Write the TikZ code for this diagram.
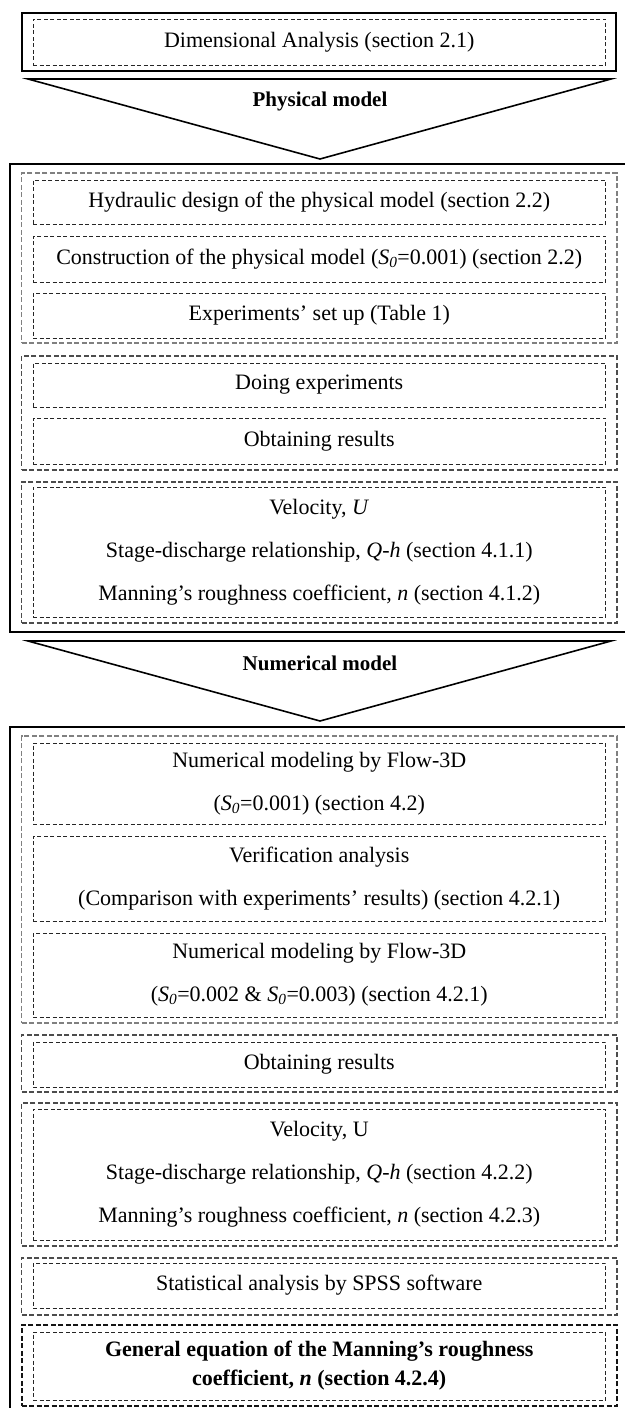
\documentclass[tikz,border=0pt]{standalone}
\usepackage{fontspec}
\setmainfont{Liberation Serif}
\newcommand{\Szero}{\textit{S}\textsubscript{\textit{0}}}
\begin{document}
\begin{tikzpicture}[x=1pt,y=-1pt,
  every node/.style={font=\fontsize{22}{43}\selectfont, align=center, inner sep=0pt},
  outerbox/.style={draw=black, line width=2pt},
  grp/.style={minimum width=595.3pt, line width=1.5pt, dash pattern=on 5pt off 2.5pt},
  grplight/.style={grp, draw=black!50},
  grpdark/.style={grp, draw=black!70},
  grpblack/.style={grp, draw=black!92, line width=1.8pt},
  item/.style={draw=black!85, line width=0.8pt, dash pattern=on 4pt off 2.5pt, minimum width=572.5pt},
  chevron/.style={draw=black, line width=1.6pt, line join=miter},
  label/.style={font=\fontsize{21}{43}\selectfont\bfseries}
]
\useasboundingbox (0,0) rectangle (624,1408);

% ---- top box
\node[outerbox, minimum width=594.3pt, minimum height=57.4pt] (top) at (318.85,42) {};
\node[item, minimum height=46pt] (dim) at (319.25,42) {Dimensional Analysis (section 2.1)};

% ---- chevron 1
\coordinate (t1l) at (28,79);
\coordinate (t1r) at (611,79);
\coordinate (t1a) at (320,159);
\draw[chevron] (t1l) -- (t1r) -- (t1a) -- cycle;
\node[label] (pm) at (320,101) {Physical model};

% ---- physical model box
\node[outerbox, minimum width=620pt, minimum height=468pt] (phys) at (320,398) {};
\node[grplight, minimum height=170pt] (ga) at (319.35,258) {};
\node[item, minimum height=44pt] (hyd) at (319.25,202) {Hydraulic design of the physical model (section 2.2)};
\node[item, minimum height=46pt] (cons) at (319.25,259) {Construction of the physical model (\Szero=0.001) (section 2.2)};
\node[item, minimum height=45pt] (setup) at (319.25,315.5) {Experiments’ set up (Table 1)};

\node[grpdark, minimum height=114pt] (gb) at (319.35,413) {};
\node[item, minimum height=44pt] (doing) at (319.25,385) {Doing experiments};
\node[item, minimum height=46pt] (obt1) at (319.25,441) {Obtaining results};

\node[grpdark, minimum height=141pt] (gc) at (319.35,552.5) {};
\node[item, minimum height=130pt] (res1) at (319.25,552) {Velocity, \textit{U}\\Stage-discharge relationship, \textit{Q-h} (section 4.1.1)\\Manning’s roughness coefficient, \textit{n} (section 4.1.2)};

% ---- chevron 2
\coordinate (t2l) at (28,641);
\coordinate (t2r) at (611,641);
\coordinate (t2a) at (320,721);
\draw[chevron] (t2l) -- (t2r) -- (t2a) -- cycle;
\node[label] (nm) at (320,663) {Numerical model};

% ---- numerical model box
\node[outerbox, minimum width=620pt, minimum height=693pt] (num) at (320,1073.5) {};
\node[grplight, minimum height=287pt] (gd) at (319.35,879.5) {};
\node[item, minimum height=81pt] (nm1) at (319.25,783.5) {Numerical modeling by Flow-3D\\(\Szero=0.001) (section 4.2)};
\node[item, minimum height=85pt] (ver) at (319.25,878.5) {Verification analysis\\(Comparison with experiments’ results) (section 4.2.1)};
\node[item, minimum height=84pt] (nm2) at (319.25,975) {Numerical modeling by Flow-3D\\(\Szero=0.002 \& \Szero=0.003) (section 4.2.1)};

\node[grpdark, minimum height=57pt] (ge) at (319.35,1063.5) {};
\node[item, minimum height=45pt] (obt2) at (319.25,1064.5) {Obtaining results};

\node[grpdark, minimum height=143pt] (gf) at (319.35,1174.5) {};
\node[item, minimum height=131pt] (res2) at (319.25,1174.5) {Velocity, U\\Stage-discharge relationship, \textit{Q-h} (section 4.2.2)\\Manning’s roughness coefficient, \textit{n} (section 4.2.3)};

\node[grpdark, minimum height=57pt] (gg) at (319.35,1286.5) {};
\node[item, minimum height=45pt] (stat) at (319.25,1285.5) {Statistical analysis by SPSS software};

\node[grpblack, minimum height=81pt] (gh) at (319.35,1365.5) {};
\node[item, minimum height=68pt, font=\fontsize{22}{29}\selectfont\bfseries] (gen) at (319.25,1366) {General equation of the Manning’s roughness\\coefficient, \textit{n} (section 4.2.4)};
\end{tikzpicture}
\end{document}
